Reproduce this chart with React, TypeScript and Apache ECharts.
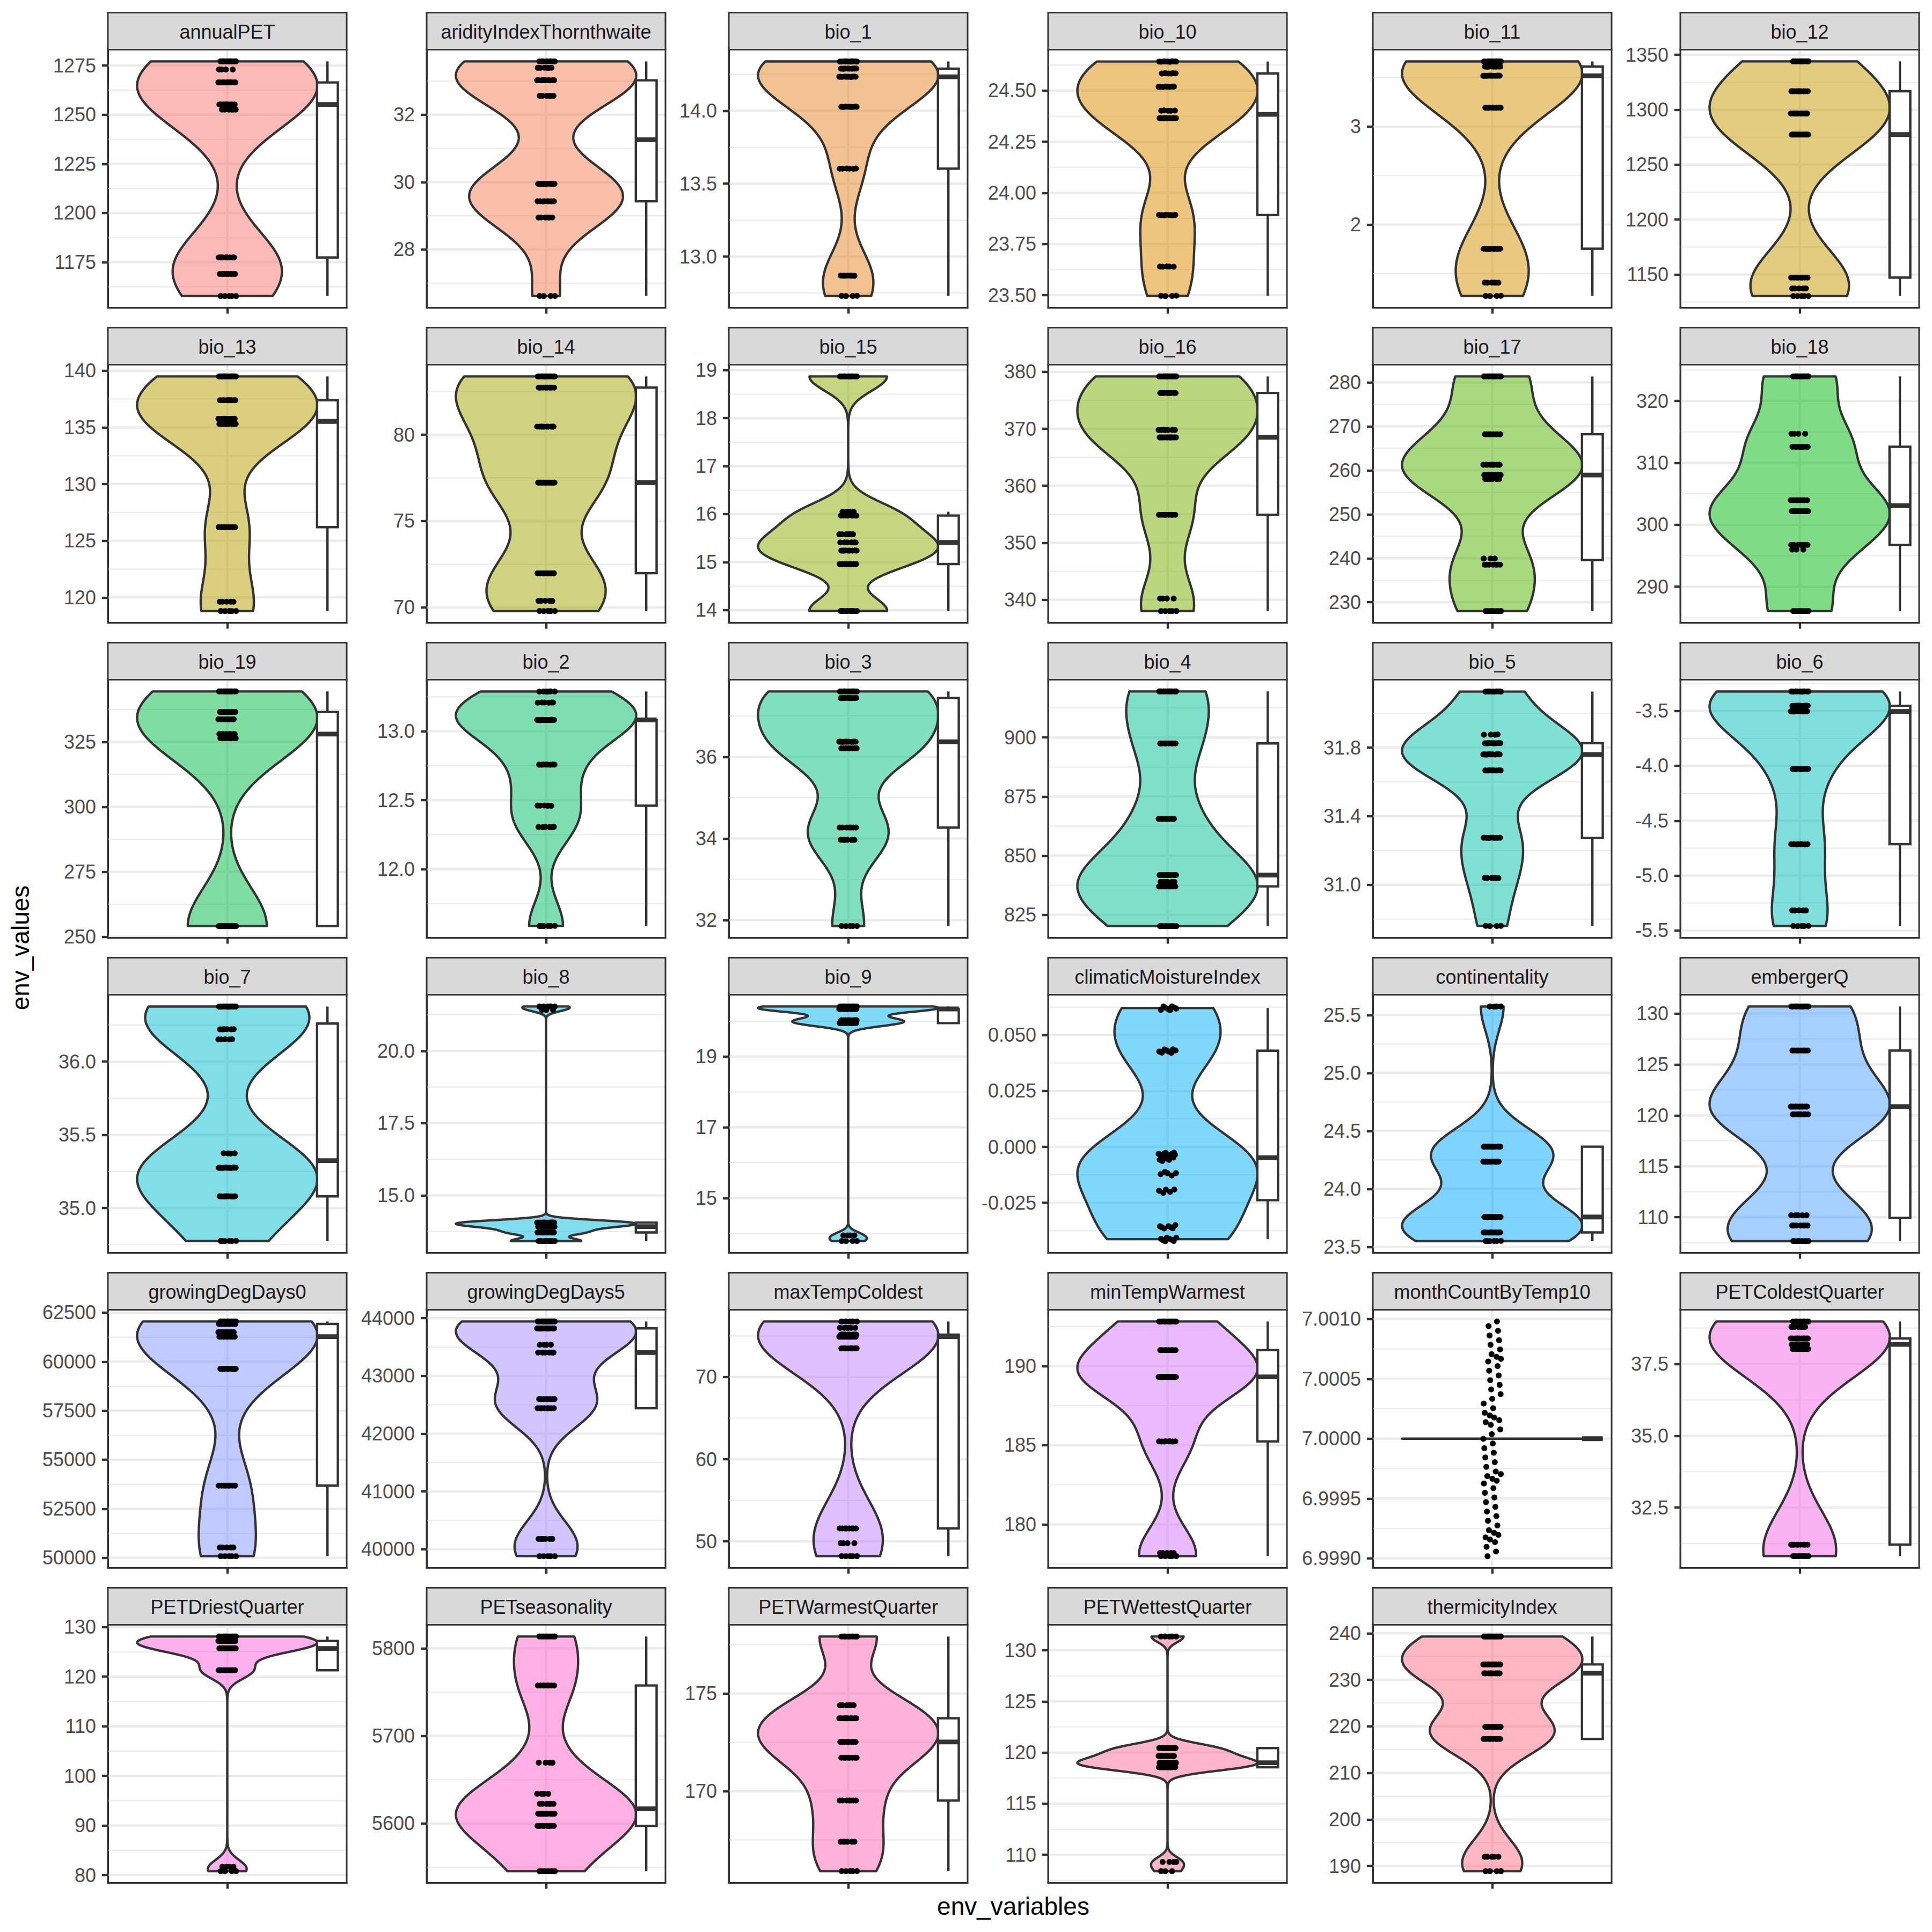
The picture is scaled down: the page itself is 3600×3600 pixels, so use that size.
import React, { useEffect, useRef } from "react";
import * as echarts from "echarts";

// ---------------- data (counts per level) ----------------
const annualPET_values = [1157.8, 1169, 1177.4, 1252.6, 1255.2, 1266.4, 1273, 1277.1];
const annualPET_counts = [5, 8, 9, 6, 9, 10, 4, 9];
const annualPET_ticks = [1175, 1200, 1225, 1250, 1275];

const aridityIndexThornthwaite_values = [26.62, 28.95, 29.43, 29.95, 32.56, 33.02, 33.39, 33.58];
const aridityIndexThornthwaite_counts = [4, 6, 8, 12, 6, 10, 6, 8];
const aridityIndexThornthwaite_ticks = [28, 30, 32];

const bio_1_values = [12.73, 12.869, 13.603, 14.027, 14.233, 14.289, 14.338];
const bio_1_counts = [4, 7, 6, 10, 12, 10, 11];
const bio_1_ticks = [13.0, 13.5, 14.0];

const bio_10_values = [23.497, 23.64, 23.892, 24.365, 24.402, 24.519, 24.584, 24.642];
const bio_10_counts = [4, 5, 8, 13, 5, 8, 7, 10];
const bio_10_ticks = [23.5, 23.75, 24.0, 24.25, 24.5];

const bio_11_values = [1.273, 1.409, 1.754, 3.192, 3.518, 3.612, 3.664];
const bio_11_counts = [4, 6, 8, 8, 12, 10, 12];
const bio_11_ticks = [2, 3];

const bio_12_values = [1130.4, 1137.3, 1147.2, 1277.4, 1296.5, 1316.8, 1344];
const bio_12_counts = [5, 5, 8, 13, 10, 10, 9];
const bio_12_ticks = [1150, 1200, 1250, 1300, 1350];

const bio_13_values = [118.8, 119.62, 126.2, 135.3, 135.76, 137.4, 139.5];
const bio_13_counts = [5, 5, 8, 12, 8, 9, 13];
const bio_13_ticks = [120, 125, 130, 135, 140];

const bio_14_values = [69.79, 70.38, 71.98, 77.23, 80.47, 82.73, 83.38];
const bio_14_counts = [5, 5, 8, 13, 10, 8, 11];
const bio_14_ticks = [70, 75, 80];

const bio_15_values = [13.98, 14.96, 15.24, 15.41, 15.58, 15.97, 16.05, 18.87];
const bio_15_counts = [10, 8, 9, 6, 6, 7, 4, 10];
const bio_15_ticks = [14, 15, 16, 17, 18, 19];

const bio_16_values = [338.0, 340.2, 354.9, 368.5, 369.8, 376.3, 379.2];
const bio_16_counts = [5, 4, 8, 14, 7, 10, 12];
const bio_16_ticks = [340, 350, 360, 370, 380];

const bio_17_values = [228.0, 238.55, 239.95, 258.0, 258.93, 261.26, 268.2, 281.35];
const bio_17_counts = [8, 7, 3, 6, 8, 10, 8, 10];
const bio_17_ticks = [230, 240, 250, 260, 270, 280];

const bio_18_values = [286.06, 296.0, 296.75, 302.2, 303.97, 312.6, 314.7, 323.97];
const bio_18_counts = [8, 3, 7, 12, 8, 9, 4, 9];
const bio_18_ticks = [290, 300, 310, 320];

const bio_19_values = [254.1, 326.4, 328.0, 333.7, 336.5, 344.4];
const bio_19_counts = [17, 8, 8, 8, 8, 11];
const bio_19_ticks = [250, 275, 300, 325];

const bio_2_values = [11.589, 12.306, 12.461, 12.758, 13.082, 13.208, 13.288];
const bio_2_counts = [6, 6, 6, 8, 22, 6, 6];
const bio_2_ticks = [12.0, 12.5, 13.0];

const bio_3_values = [31.86, 33.97, 34.27, 36.21, 36.37, 37.44, 37.6];
const bio_3_counts = [5, 6, 7, 8, 12, 10, 12];
const bio_3_ticks = [32, 34, 36];

const bio_4_values = [820.2, 837.0, 838.9, 841.8, 865.6, 897.5, 919.5];
const bio_4_counts = [10, 8, 6, 10, 8, 8, 10];
const bio_4_ticks = [825, 850, 875, 900];

const bio_5_values = [30.76, 31.04, 31.274, 31.667, 31.76, 31.826, 31.876, 32.127];
const bio_5_counts = [4, 6, 8, 8, 12, 10, 4, 8];
const bio_5_ticks = [31.0, 31.4, 31.8];

const bio_6_values = [-5.459, -5.317, -4.714, -4.028, -3.504, -3.453, -3.323];
const bio_6_counts = [5, 5, 8, 8, 12, 12, 10];
const bio_6_ticks = [-5.5, -5.0, -4.5, -4.0, -3.5];

const bio_7_values = [34.775, 35.08, 35.275, 35.373, 36.152, 36.221, 36.376];
const bio_7_counts = [6, 10, 14, 4, 5, 6, 15];
const bio_7_ticks = [35.0, 35.5, 36.0];

const bio_8_values = [13.42, 13.72, 13.92, 14.06, 21.42, 21.54];
const bio_8_counts = [10, 10, 12, 20, 3, 5];
const bio_8_ticks = [15.0, 17.5, 20.0];

const bio_9_values = [13.78, 13.94, 19.95, 20.03, 20.35, 20.42];
const bio_9_counts = [4, 4, 10, 10, 18, 14];
const bio_9_ticks = [15, 17, 19];

const climaticMoistureIndex_values = [-0.0413, -0.0357, -0.0199, -0.0121, -0.0057, -0.004, -0.0031, 0.043, 0.0621];
const climaticMoistureIndex_counts = [8, 7, 5, 5, 5, 6, 5, 10, 9];
const climaticMoistureIndex_ticks = [-0.025, 0.0, 0.025, 0.05];

const continentality_values = [23.55, 23.624, 23.757, 24.235, 24.364, 25.573];
const continentality_counts = [6, 12, 16, 10, 12, 4];
const continentality_ticks = [23.5, 24.0, 24.5, 25.0, 25.5];

const embergerQ_values = [107.66, 109.2, 110.2, 120.1, 120.87, 126.37, 130.7];
const embergerQ_counts = [8, 7, 5, 9, 13, 8, 10];
const embergerQ_ticks = [110, 115, 120, 125, 130];

const growingDegDays0_values = [50084, 50524, 53680, 59640, 61274, 61505, 61924, 62050];
const growingDegDays0_counts = [5, 5, 8, 10, 8, 8, 8, 8];
const growingDegDays0_ticks = [50000, 52500, 55000, 57500, 60000, 62500];

const growingDegDays5_values = [39879, 40177, 42440, 42599, 43404, 43539, 43823, 43943];
const growingDegDays5_counts = [5, 6, 8, 8, 6, 4, 11, 12];
const growingDegDays5_ticks = [40000, 41000, 42000, 43000, 44000];

const maxTempColdest_values = [48.2, 49.77, 51.57, 73.5, 74.92, 75.17, 75.99, 76.77];
const maxTempColdest_counts = [5, 4, 8, 8, 14, 10, 6, 5];
const maxTempColdest_ticks = [50, 60, 70];

const minTempWarmest_values = [178.0, 178.2, 185.24, 189.31, 191.0, 192.81];
const minTempWarmest_counts = [5, 5, 8, 24, 8, 10];
const minTempWarmest_ticks = [180, 185, 190];

const monthCountByTemp10_values = [7];
const monthCountByTemp10_counts = [60];
const monthCountByTemp10_ticks = [6.999, 6.9995, 7.0, 7.0005, 7.001];

const PETColdestQuarter_values = [30.81, 31.21, 38.02, 38.18, 38.39, 38.79, 38.98];
const PETColdestQuarter_counts = [8, 9, 8, 10, 11, 6, 8];
const PETColdestQuarter_ticks = [32.5, 35.0, 37.5];

const PETDriestQuarter_values = [80.8, 81.7, 121.3, 125.7, 127.2, 128.1];
const PETDriestQuarter_counts = [4, 4, 10, 16, 14, 12];
const PETDriestQuarter_ticks = [80, 90, 100, 110, 120, 130];

const PETseasonality_values = [5545.7, 5597.4, 5611.3, 5622.4, 5633.9, 5669.5, 5757.5, 5813.4];
const PETseasonality_counts = [8, 10, 12, 6, 4, 4, 8, 8];
const PETseasonality_ticks = [5600, 5700, 5800];

const PETWarmestQuarter_values = [165.9, 167.41, 169.52, 171.71, 172.52, 173.73, 174.4, 177.92];
const PETWarmestQuarter_counts = [5, 6, 7, 8, 10, 10, 6, 8];
const PETWarmestQuarter_ticks = [170, 175];

const PETWettestQuarter_values = [108.4, 109.3, 118.56, 119.0, 119.67, 120.44, 131.35];
const PETWettestQuarter_counts = [3, 4, 12, 14, 10, 12, 5];
const PETWettestQuarter_ticks = [110, 115, 120, 125, 130];

const thermicityIndex_values = [188.9, 192.0, 217.3, 219.9, 231.4, 233.3, 239.3];
const thermicityIndex_counts = [4, 5, 8, 10, 10, 10, 13];
const thermicityIndex_ticks = [190, 200, 210, 220, 230, 240];

const facets: [string, number[], number[], number[]][] = [
  ["annualPET", annualPET_values, annualPET_counts, annualPET_ticks],
  ["aridityIndexThornthwaite", aridityIndexThornthwaite_values, aridityIndexThornthwaite_counts, aridityIndexThornthwaite_ticks],
  ["bio_1", bio_1_values, bio_1_counts, bio_1_ticks],
  ["bio_10", bio_10_values, bio_10_counts, bio_10_ticks],
  ["bio_11", bio_11_values, bio_11_counts, bio_11_ticks],
  ["bio_12", bio_12_values, bio_12_counts, bio_12_ticks],
  ["bio_13", bio_13_values, bio_13_counts, bio_13_ticks],
  ["bio_14", bio_14_values, bio_14_counts, bio_14_ticks],
  ["bio_15", bio_15_values, bio_15_counts, bio_15_ticks],
  ["bio_16", bio_16_values, bio_16_counts, bio_16_ticks],
  ["bio_17", bio_17_values, bio_17_counts, bio_17_ticks],
  ["bio_18", bio_18_values, bio_18_counts, bio_18_ticks],
  ["bio_19", bio_19_values, bio_19_counts, bio_19_ticks],
  ["bio_2", bio_2_values, bio_2_counts, bio_2_ticks],
  ["bio_3", bio_3_values, bio_3_counts, bio_3_ticks],
  ["bio_4", bio_4_values, bio_4_counts, bio_4_ticks],
  ["bio_5", bio_5_values, bio_5_counts, bio_5_ticks],
  ["bio_6", bio_6_values, bio_6_counts, bio_6_ticks],
  ["bio_7", bio_7_values, bio_7_counts, bio_7_ticks],
  ["bio_8", bio_8_values, bio_8_counts, bio_8_ticks],
  ["bio_9", bio_9_values, bio_9_counts, bio_9_ticks],
  ["climaticMoistureIndex", climaticMoistureIndex_values, climaticMoistureIndex_counts, climaticMoistureIndex_ticks],
  ["continentality", continentality_values, continentality_counts, continentality_ticks],
  ["embergerQ", embergerQ_values, embergerQ_counts, embergerQ_ticks],
  ["growingDegDays0", growingDegDays0_values, growingDegDays0_counts, growingDegDays0_ticks],
  ["growingDegDays5", growingDegDays5_values, growingDegDays5_counts, growingDegDays5_ticks],
  ["maxTempColdest", maxTempColdest_values, maxTempColdest_counts, maxTempColdest_ticks],
  ["minTempWarmest", minTempWarmest_values, minTempWarmest_counts, minTempWarmest_ticks],
  ["monthCountByTemp10", monthCountByTemp10_values, monthCountByTemp10_counts, monthCountByTemp10_ticks],
  ["PETColdestQuarter", PETColdestQuarter_values, PETColdestQuarter_counts, PETColdestQuarter_ticks],
  ["PETDriestQuarter", PETDriestQuarter_values, PETDriestQuarter_counts, PETDriestQuarter_ticks],
  ["PETseasonality", PETseasonality_values, PETseasonality_counts, PETseasonality_ticks],
  ["PETWarmestQuarter", PETWarmestQuarter_values, PETWarmestQuarter_counts, PETWarmestQuarter_ticks],
  ["PETWettestQuarter", PETWettestQuarter_values, PETWettestQuarter_counts, PETWettestQuarter_ticks],
  ["thermicityIndex", thermicityIndex_values, thermicityIndex_counts, thermicityIndex_ticks],
];

// ---------------- layout / style ----------------
const COL_LEFT = [201, 795, 1358, 1953, 2558, 3131];
const ROW_TOP = [23.5, 610.5, 1197.5, 1784.5, 2371.5, 2958.5];
const PANEL_W = 445;
const STRIP_H = 69;
const PANEL_H = 481;
const FONT = '"Liberation Sans", Arial, Helvetica, sans-serif';
const VIOLIN_HALF = 0.755;
const BOX_L = 0.752;
const BOX_R = 0.926;
const BOX_C = 0.839;
const JIT_X = 0.075;
const JIT_Y = 0.001;
const LW = 4.4;

// ---------------- helpers ----------------
function hclRgb(h: number, c: number, l: number): number[] {
  const WY = 100, Wu = 0.1978398, Wv = 0.4683363;
  const hr = (h * Math.PI) / 180;
  const U = c * Math.cos(hr), V = c * Math.sin(hr);
  const Y = WY * (l > 7.999592 ? Math.pow((l + 16) / 116, 3) : l / 903.3);
  const u = U / (13 * l) + Wu;
  const v = V / (13 * l) + Wv;
  const X = (9.0 * Y * u) / (4 * v);
  const Z = -X / 3 - 5 * Y + (3 * Y) / v;
  const g = (x: number) => (x > 0.00304 ? 1.055 * Math.pow(x, 1 / 2.4) - 0.055 : 12.92 * x);
  const r = g((3.240479 * X - 1.53715 * Y - 0.498535 * Z) / WY);
  const gg = g((-0.969256 * X + 1.875992 * Y + 0.041556 * Z) / WY);
  const b = g((0.055648 * X - 0.204043 * Y + 1.057311 * Z) / WY);
  return [r, gg, b].map((t) => Math.round(Math.min(1, Math.max(0, t)) * 255));
}

function q7(s: number[], p: number): number {
  const h = (s.length - 1) * p;
  const lo = Math.floor(h), hi = Math.ceil(h);
  return s[lo] + (h - lo) * (s[hi] - s[lo]);
}

function decimalsOf(ticks: number[]): number {
  let d = 0;
  for (const t of ticks) {
    const s = String(t);
    const k = s.indexOf(".");
    if (k >= 0) d = Math.max(d, s.length - k - 1);
  }
  return d;
}

function frac(x: number) {
  return x - Math.floor(x);
}

function buildPanel(values: number[], counts: number[], ticks: number[]) {
  const raw: number[] = [];
  values.forEach((v, i) => {
    for (let k = 0; k < counts[i]; k++) raw.push(v);
  });
  const n = raw.length;
  const s = [...raw].sort((a, b) => a - b);
  // jittered points
  const pts: number[][] = raw.map((v, k) => [
    JIT_X * (2 * frac(k * 0.6180339887 + 0.137) - 1),
    v + JIT_Y * (2 * frac(k * 0.7548776662 + 0.569) - 1),
  ]);
  // limits
  let dmin = s[0], dmax = s[n - 1];
  pts.forEach((p) => {
    dmin = Math.min(dmin, p[1]);
    dmax = Math.max(dmax, p[1]);
  });
  const rng = dmax - dmin;
  const lo = dmin - 0.05 * rng;
  const hi = dmax + 0.05 * rng;
  // density (gaussian, nrd0)
  const mean = s.reduce((a, b) => a + b, 0) / n;
  const sd = Math.sqrt(s.reduce((a, b) => a + (b - mean) * (b - mean), 0) / (n - 1));
  const iqr = q7(s, 0.75) - q7(s, 0.25);
  let l0 = Math.min(sd, iqr / 1.34);
  if (!(l0 > 1e-12)) l0 = sd > 1e-12 ? sd : Math.abs(s[0]) || 1;
  const bw = 0.9 * l0 * Math.pow(n, -0.2);
  const N = 512;
  const dens: number[][] = [];
  let mx = 0;
  for (let j = 0; j < N; j++) {
    const y = s[0] + ((s[n - 1] - s[0]) * j) / (N - 1);
    let d = 0;
    for (const x of s) {
      const z = (y - x) / bw;
      d += Math.exp(-0.5 * z * z);
    }
    dens.push([y, d]);
    mx = Math.max(mx, d);
  }
  dens.forEach((p) => (p[1] = (p[1] / mx) * VIOLIN_HALF));
  // box stats
  const q1 = q7(s, 0.25), med = q7(s, 0.5), q3 = q7(s, 0.75);
  const iq = q3 - q1;
  const wLo = Math.min(...s.filter((v) => v >= q1 - 1.5 * iq));
  const wHi = Math.max(...s.filter((v) => v <= q3 + 1.5 * iq));
  // minor breaks
  const step = ticks[1] - ticks[0];
  const ext = [ticks[0] - step, ...ticks, ticks[ticks.length - 1] + step];
  const minor: number[] = [];
  for (let k = 0; k < ext.length - 1; k++) {
    const m = (ext[k] + ext[k + 1]) / 2;
    if (m >= lo && m <= hi) minor.push(m);
  }
  return { pts, lo, hi, dens, q1, med, q3, wLo, wHi, minor };
}

function buildOption() {
  const grid: any[] = [], xAxis: any[] = [], yAxis: any[] = [], series: any[] = [], elements: any[] = [];
  const nF = facets.length;
  facets.forEach((f, i) => {
    const [name, values, counts, ticks] = f;
    const col = i % 6, row = Math.floor(i / 6);
    const left = COL_LEFT[col];
    const stripTop = ROW_TOP[row];
    const top = stripTop + STRIP_H;
    const P = buildPanel(values, counts, ticks);
    const dec = decimalsOf(ticks);
    const hue = 15 + (i * 360) / nF;
    const rgb = hclRgb(hue % 360, 100, 65);
    const fill = `rgba(${rgb[0]},${rgb[1]},${rgb[2]},0.5)`;

    grid.push({ left, top, width: PANEL_W, height: PANEL_H, containLabel: false, outerBoundsMode: "none" });
    xAxis.push({
      type: "value",
      gridIndex: i,
      min: -1,
      max: 1,
      axisLine: { show: true, onZero: false, lineStyle: { color: "#333333", width: 3 } },
      axisTick: { show: true, customValues: [0], length: 11, lineStyle: { color: "#333333", width: LW } },
      axisLabel: { show: false },
      splitLine: { show: false },
    });
    yAxis.push({
      type: "value",
      gridIndex: i,
      min: P.lo,
      max: P.hi,
      axisLine: { show: true, onZero: false, lineStyle: { color: "#333333", width: 3 } },
      axisTick: { show: true, customValues: ticks, length: 11, lineStyle: { color: "#333333", width: LW } },
      axisLabel: {
        show: true,
        customValues: ticks,
        formatter: (v: number) => Number(v).toFixed(dec),
        fontSize: 36,
        fontFamily: FONT,
        color: "#4D4D4D",
        margin: 22,
      },
      splitLine: { show: false },
    });

    series.push({
      type: "custom",
      xAxisIndex: i,
      yAxisIndex: i,
      data: [[0, P.lo]],
      silent: true,
      clip: false,
      z: 2,
      renderItem: (params: any, api: any) => {
        const cs = params.coordSys;
        const x0 = cs.x, x1 = cs.x + cs.width, y0 = cs.y, y1 = cs.y + cs.height;
        const C = (x: number, y: number) => api.coord([x, y]);
        const ch: any[] = [];
        P.minor.forEach((m) => {
          const y = C(0, m)[1];
          ch.push({ type: "line", shape: { x1: x0, y1: y, x2: x1, y2: y }, style: { stroke: "#EBEBEB", lineWidth: 2.2 } });
        });
        ticks.forEach((t) => {
          const y = C(0, t)[1];
          ch.push({ type: "line", shape: { x1: x0, y1: y, x2: x1, y2: y }, style: { stroke: "#EBEBEB", lineWidth: LW } });
        });
        const xc = C(0, P.lo)[0];
        ch.push({ type: "line", shape: { x1: xc, y1: y0, x2: xc, y2: y1 }, style: { stroke: "#EBEBEB", lineWidth: LW } });
        // violin
        const poly: number[][] = [];
        for (let j = 0; j < P.dens.length; j++) poly.push(C(P.dens[j][1], P.dens[j][0]));
        for (let j = P.dens.length - 1; j >= 0; j--) poly.push(C(-P.dens[j][1], P.dens[j][0]));
        ch.push({
          type: "polygon",
          shape: { points: poly },
          style: { fill, stroke: "#333333", lineWidth: LW, lineJoin: "round" },
        });
        // boxplot
        const bc = C(BOX_C, P.q3)[0];
        const bl = C(BOX_L, P.q3)[0];
        const br = C(BOX_R, P.q3)[0];
        const yq1 = C(0, P.q1)[1], yq3 = C(0, P.q3)[1], ym = C(0, P.med)[1];
        const ywl = C(0, P.wLo)[1], ywh = C(0, P.wHi)[1];
        ch.push({ type: "line", shape: { x1: bc, y1: yq3, x2: bc, y2: ywh }, style: { stroke: "#333333", lineWidth: LW } });
        ch.push({ type: "line", shape: { x1: bc, y1: yq1, x2: bc, y2: ywl }, style: { stroke: "#333333", lineWidth: LW } });
        ch.push({
          type: "rect",
          shape: { x: bl, y: yq3, width: br - bl, height: yq1 - yq3 },
          style: { fill: "#FFFFFF", stroke: "#333333", lineWidth: LW },
        });
        ch.push({ type: "line", shape: { x1: bl, y1: ym, x2: br, y2: ym }, style: { stroke: "#333333", lineWidth: LW * 2 } });
        // panel border
        ch.push({
          type: "rect",
          shape: { x: x0, y: y0, width: x1 - x0, height: y1 - y0 },
          style: { fill: "none", stroke: "#333333", lineWidth: 3 },
        });
        return { type: "group", children: ch };
      },
    });

    series.push({
      type: "scatter",
      xAxisIndex: i,
      yAxisIndex: i,
      data: P.pts,
      symbol: "circle",
      symbolSize: 11,
      itemStyle: { color: "#000000", opacity: 1 },
      silent: true,
      z: 3,
    });

    // strip
    elements.push({
      type: "rect",
      shape: { x: left, y: stripTop, width: PANEL_W, height: STRIP_H },
      style: { fill: "#D9D9D9", stroke: "#333333", lineWidth: 3 },
      z: 10,
    });
    elements.push({
      type: "text",
      x: left + PANEL_W / 2,
      y: stripTop + STRIP_H / 2 + 1,
      style: {
        text: name,
        fill: "#1A1A1A",
        fontSize: 36,
        fontFamily: FONT,
        align: "center",
        verticalAlign: "middle",
        textAlign: "center",
        textVerticalAlign: "middle",
      },
      z: 11,
    });
  });

  elements.push({
    type: "text",
    x: 38,
    y: 1766,
    rotation: Math.PI / 2,
    style: {
      text: "env_values",
      fill: "#000000",
      fontSize: 46,
      fontFamily: FONT,
      align: "center",
      verticalAlign: "middle",
      textAlign: "center",
      textVerticalAlign: "middle",
    },
    z: 11,
  });
  elements.push({
    type: "text",
    x: 1888,
    y: 3552,
    style: {
      text: "env_variables",
      fill: "#000000",
      fontSize: 46,
      fontFamily: FONT,
      align: "center",
      verticalAlign: "middle",
      textAlign: "center",
      textVerticalAlign: "middle",
    },
    z: 11,
  });

  return {
    animation: false,
    backgroundColor: "#FFFFFF",
    grid,
    xAxis,
    yAxis,
    series,
    graphic: { elements },
  };
}

export default function App() {
  const ref = useRef<HTMLDivElement>(null);
  useEffect(() => {
    document.body.style.margin = "0";
    if (!ref.current) return;
    const chart = echarts.init(ref.current, undefined, { renderer: "svg", width: 3600, height: 3600 });
    chart.setOption(buildOption() as any);
    return () => chart.dispose();
  }, []);
  return <div ref={ref} style={{ width: 3600, height: 3600 }} />;
}
